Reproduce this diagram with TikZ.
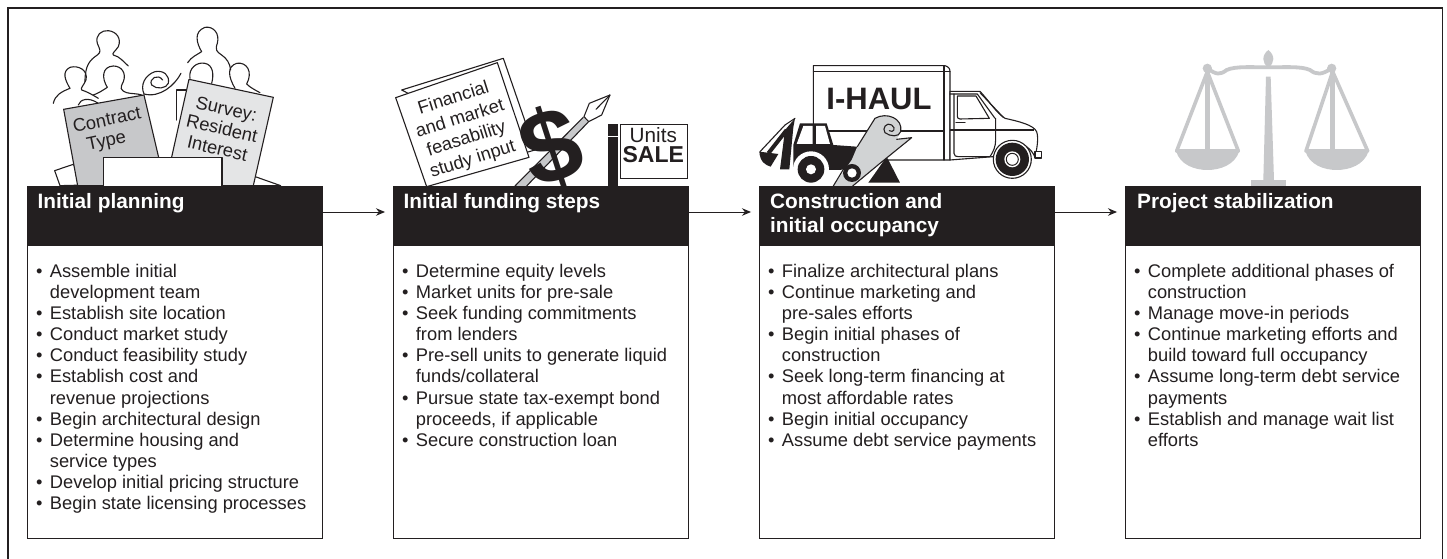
\documentclass[tikz,border=0pt]{standalone}
\usepackage{fontspec}
\setmainfont{Liberation Sans}
\usetikzlibrary{arrows.meta}
\definecolor{hdr}{HTML}{231F20}
\definecolor{gA}{HTML}{C7C8CA}
\definecolor{gB}{HTML}{E4E5E6}
\definecolor{gC}{HTML}{D1D3D4}
\tikzset{
 x=1pt,y=-1pt,
 ink/.style={draw=hdr,line width=1.1pt,line join=round,line cap=round},
 sheet/.style={draw=hdr,line width=1.1pt,line join=round,fill=white},
 panel/.style={draw=hdr,line width=0.9pt,fill=white,minimum width=295pt,minimum height=351.5pt,anchor=north west,inner sep=0pt},
 head/.style={fill=hdr,minimum width=295.5pt,minimum height=60pt,anchor=north west,inner sep=0pt},
 headtxt/.style={anchor=north west,text=white,font=\fontsize{20.8}{24.5}\selectfont\bfseries,align=left,inner sep=0pt},
 listtxt/.style={anchor=north west,text=hdr,font=\fontsize{18.3}{21.1}\selectfont,align=left,inner sep=0pt},
 flow/.style={draw=hdr,line width=0.9pt,-{Stealth[length=9pt,width=7.5pt]}},
 tilted/.style={text=hdr,font=\fontsize{#1}{#1}\selectfont,align=center,inner sep=0pt},
 scalegray/.style={draw=gA,line width=3.6pt,line cap=round,line join=round},
}
\newcommand{\itm}[1]{\makebox[13.7pt][l]{•}#1\\}
\newcommand{\cnt}[1]{\hspace*{13.7pt}#1\\}
\begin{document}
\begin{tikzpicture}
\useasboundingbox (0,0) rectangle (1447,559);
\fill[white] (0,0) rectangle (1447,559);
\draw[hdr,line width=1.1pt] (8,560) -- (8,8) -- (1442.5,8) -- (1442.5,560);

% people (first picture)
\begin{scope}[shift={(20,10)},x=0.3333pt,y=-0.3333pt]
\draw[ink] (195,215) .. controls (195,165) and (210,150) .. (232,135) .. controls (245,125) and (240,120) .. (232,100) .. controls (225,75) and (245,60) .. (265,62) .. controls (290,65) and (305,85) .. (295,110) .. controls (285,125) and (275,130) .. (280,135) .. controls (300,140) and (310,155) .. (325,168);
\draw[ink] (100,280) .. controls (105,255) and (125,245) .. (150,235) .. controls (135,210) and (125,185) .. (150,172) .. controls (175,165) and (205,180) .. (198,210) .. controls (192,225) and (180,235) .. (185,240) .. controls (200,245) and (210,250) .. (235,265);
\draw[ink] (220,255) .. controls (235,250) and (250,240) .. (262,232) .. controls (245,205) and (245,170) .. (280,168) .. controls (305,168) and (320,190) .. (310,215) .. controls (300,235) and (300,240) .. (320,248) .. controls (335,252) and (350,250) .. (365,255);
\draw[ink] (175,285) .. controls (180,268) and (205,260) .. (235,280);
\draw[ink] (503,158) .. controls (515,140) and (530,135) .. (545,125) .. controls (530,100) and (520,65) .. (555,52) .. controls (580,48) and (600,70) .. (592,100) .. controls (585,120) and (590,125) .. (605,135) .. controls (620,145) and (630,160) .. (632,180);
\draw[ink] (510,205) .. controls (505,175) and (530,155) .. (555,160) .. controls (580,165) and (582,195) .. (575,220);
\draw[ink] (645,235) .. controls (625,200) and (620,170) .. (650,160) .. controls (680,155) and (700,185) .. (680,222) .. controls (690,232) and (705,240) .. (720,248);
\draw[ink] (372,252) .. controls (360,225) and (375,195) .. (405,185) .. controls (430,180) and (450,195) .. (445,220) .. controls (440,235) and (410,240) .. (395,225) .. controls (385,205) and (415,190) .. (428,210);
\draw[ink] (372,252) .. controls (420,265) and (465,225) .. (483,190);
\draw[ink] (470,240) -- (500,240);
\draw[ink] (470,240) -- (470,330);
\draw[sheet] (104,482) -- (160,463) -- (200,525) -- (120,527) -- cycle;
\draw[sheet] (700,498) -- (782,527) -- (690,527) -- cycle;
\draw[sheet,fill=gA] (131,298) -- (372,255) -- (436,527) -- (173,527) -- cycle;
\draw[sheet,fill=gB] (507,208) -- (760,262) -- (700,527) -- (436,527) -- cycle;
\node[tilted=18.3,rotate=12] (c1) at (268,364) {Contract\\[2pt]Type\hspace*{10pt}};
\node[tilted=18.3,rotate=-13] (c2) at (606,356) {Survey:\\[2pt]Resident\\[2pt]Interest};
\draw[sheet] (250,527) -- (250,442) -- (606,442) -- (606,527);
\end{scope}

% second picture
\begin{scope}[shift={(380,60)},x=0.3333pt,y=-0.3333pt]
\draw[sheet] (65,90) -- (370,-5) -- (465,270) -- (430,280) -- cycle;
\draw[sheet] (47,113) -- (352,8) -- (447,292) -- (140,380) -- cycle;
\node[tilted=18.3,rotate=17.5] (f1) at (250,208) {Financial\\[3pt]and market\\[3pt]feasability\\[3pt]study input};
\fill[gA] (405,378) -- (610,172) -- (625,186) -- (440,378) -- cycle;
\draw[ink] (405,378) -- (610,172);
\draw[ink] (440,378) -- (625,186);
\draw[ink,fill=white] (612,170) -- (628,130) -- (690,105) -- (665,165) -- (626,185) -- cycle;
\draw[ink] (690,105) -- (648,148);
\node[text=hdr,font=\fontsize{104}{104}\selectfont\bfseries,rotate=18,inner sep=0pt] (dollar) at (515,262) {\$};
\fill[hdr] (684,192) rectangle (714,228);
\fill[hdr] (684,232) rectangle (714,380);
\node[draw=hdr,line width=0.9pt,minimum width=67pt,minimum height=54pt,anchor=north west,inner sep=0pt,fill=white] (sale) at (720,192) {};
\node[text=hdr,font=\fontsize{20.7}{20.7}\selectfont,inner sep=0pt] (u) at (820,225) {Units};
\node[text=hdr,font=\fontsize{23}{23}\selectfont\bfseries,inner sep=0pt] (s) at (820,283) {SALE};
\end{scope}

% truck
\begin{scope}[shift={(740,50)},x=0.3333pt,y=-0.3333pt]
\draw[sheet] (220,47) -- (615,47) .. controls (625,50) and (630,55) .. (630,65) -- (630,330) -- (220,330) -- cycle;
\draw[ink] (220,65) -- (630,65);
\draw[ink] (612,47) -- (612,330);
\draw[hdr,line width=2.2pt] (220,243) -- (612,243);
\node[text=hdr,font=\fontsize{31}{31}\selectfont\bfseries,inner sep=0pt] (ih) at (417,146) {I-HAUL};
\draw[sheet] (630,124) -- (720,124) .. controls (745,150) and (770,190) .. (795,205) .. controls (840,215) and (880,225) .. (890,245) .. controls (897,265) and (890,300) .. (885,322) .. controls (865,270) and (790,260) .. (760,320) -- (630,330) -- cycle;
\draw[ink] (630,132) -- (712,132) -- (765,205);
\draw[ink] (720,128) -- (790,202);
\draw[ink] (652,138) -- (708,138) -- (748,205) -- (660,207) .. controls (654,207) and (652,203) .. (652,198) -- cycle;
\draw[ink] (642,132) -- (642,310) .. controls (642,318) and (648,320) .. (655,320) -- (750,320) .. controls (760,305) and (767,290) .. (767,270) -- (767,205);
\draw[hdr,line width=2.2pt] (630,240) -- (882,240);
\draw[ink] (648,217) -- (675,217);
\draw[sheet] (885,304) -- (904,304) -- (904,324) -- (885,324) -- cycle;
\fill[white,draw=hdr,line width=1.1pt] (817,328) circle (57);
\fill[hdr] (817,328) circle (50);
\fill[white] (817,328) circle (24);
\draw[hdr,line width=1pt] (817,328) circle (18);
% backhoe
\fill[white] (60,205) -- (165,205) -- (165,360) -- (60,360) -- cycle;
\fill[hdr] (120,358) -- (135,240) -- (165,205) -- (160,232) -- (148,358) -- cycle;
\draw[ink] (60,305) -- (135,225) -- (165,205);
\fill[hdr] (58,305) -- (115,312) -- (92,350) .. controls (75,345) and (60,335) .. (58,305) -- cycle;
\draw[hdr,line width=4pt] (85,310) -- (140,240);
\fill[hdr] (160,285) -- (180,220) -- (260,220) -- (280,285) -- (378,292) -- (378,345) -- (300,360) -- (160,360) -- cycle;
\fill[white] (170,282) -- (190,228) -- (218,228) -- (218,282) -- cycle;
\fill[white] (228,228) -- (255,228) -- (270,282) -- (228,282) -- cycle;
\fill[white] (213,358) circle (54);
\fill[hdr] (213,358) circle (40);
\fill[white] (213,358) circle (15);
\fill[hdr] (405,370) -- (440,320) -- (480,398) -- (385,398) -- cycle;
% roll
\fill[gC] (352,290) -- (405,205) .. controls (440,185) and (490,205) .. (482,245) -- (470,268) -- (515,263) -- (420,340) -- (338,408) -- (280,408) -- (335,330) -- cycle;
\draw[ink] (352,290) -- (405,205) .. controls (440,185) and (490,205) .. (482,245) .. controls (478,262) and (450,260) .. (435,248) .. controls (425,235) and (440,215) .. (455,225) .. controls (470,235) and (460,250) .. (448,242);
\draw[ink] (470,268) -- (515,263) -- (420,340) -- (338,408);
\draw[ink] (280,408) -- (318,345);
\fill[hdr] (336,369) circle (27);
\fill[white] (336,369) circle (14);
\end{scope}

% scales
\begin{scope}[shift={(1120,50)},x=0.3333pt,y=-0.3333pt]
\fill[gA] (445,0) .. controls (425,15) and (425,40) .. (445,52) .. controls (465,40) and (465,15) .. (445,0) -- cycle;
\draw[gA,line width=3.8pt] (262,55) .. controls (290,75) and (300,75) .. (320,60) .. controls (345,48) and (400,52) .. (445,52) .. controls (490,52) and (545,48) .. (570,60) .. controls (590,75) and (605,75) .. (635,55);
\fill[gA] (262,55) circle (14);
\fill[gA] (635,55) circle (14);
\fill[gA] (438,80) -- (452,80) -- (462,390) -- (430,390) -- cycle;
\fill[gA] (394,390) rectangle (497,407);
\draw[scalegray] (262,65) -- (170,303) -- (355,303) -- cycle;
\draw[gA,line width=5pt] (262,65) -- (262,303);
\draw[scalegray] (638,65) -- (558,303) -- (743,303) -- cycle;
\draw[gA,line width=5pt] (638,65) -- (638,303);
\fill[gA] (168,303) .. controls (180,345) and (225,360) .. (262,360) .. controls (300,360) and (345,345) .. (358,303) -- cycle;
\fill[gA] (556,303) .. controls (568,345) and (613,360) .. (650,360) .. controls (688,360) and (733,345) .. (746,303) -- cycle;
\end{scope}

% panels
\foreach \n/\x in {a/27,b/393,c/759,d/1125}{
 \node[panel] (p\n) at (\x,186) {};
 \node[head] (h\n) at (\x,186) {};
}
\node[headtxt] (ta) at (37.5,193) {Initial planning};
\node[headtxt] (tb) at (403.5,193) {Initial funding steps};
\node[headtxt] (tc) at (770,193) {Construction and\\initial occupancy};
\node[headtxt] (td) at (1137,193) {Project stabilization};

\coordinate (ea) at ([xshift=-8pt]pb.west|-0,212);
\coordinate (eb) at ([xshift=-8pt]pc.west|-0,212);
\coordinate (ec) at ([xshift=-8pt]pd.west|-0,212);
\draw[flow] (pa.east|-0,212) -- (ea);
\draw[flow] (pb.east|-0,212) -- (eb);
\draw[flow] (pc.east|-0,212) -- (ec);

\node[listtxt] (la) at (36,264) {\itm{Assemble initial}\cnt{development team}\itm{Establish site location}\itm{Conduct market study}\itm{Conduct feasibility study}\itm{Establish cost and}\cnt{revenue projections}\itm{Begin architectural design}\itm{Determine housing and}\cnt{service types}\itm{Develop initial pricing structure}\itm{Begin state licensing processes}};
\node[listtxt] (lb) at (402,264) {\itm{Determine equity levels}\itm{Market units for pre-sale}\itm{Seek funding commitments}\cnt{from lenders}\itm{Pre-sell units to generate liquid}\cnt{funds/collateral}\itm{Pursue state tax-exempt bond}\cnt{proceeds, if applicable}\itm{Secure construction loan}};
\node[listtxt] (lc) at (768,264) {\itm{Finalize architectural plans}\itm{Continue marketing and}\cnt{pre-sales efforts}\itm{Begin initial phases of}\cnt{construction}\itm{Seek long-term financing at}\cnt{most affordable rates}\itm{Begin initial occupancy}\itm{Assume debt service payments}};
\node[listtxt] (ld) at (1134,264) {\itm{Complete additional phases of}\cnt{construction}\itm{Manage move-in periods}\itm{Continue marketing efforts and}\cnt{build toward full occupancy}\itm{Assume long-term debt service}\cnt{payments}\itm{Establish and manage wait list}\cnt{efforts}};
\end{tikzpicture}
\end{document}
